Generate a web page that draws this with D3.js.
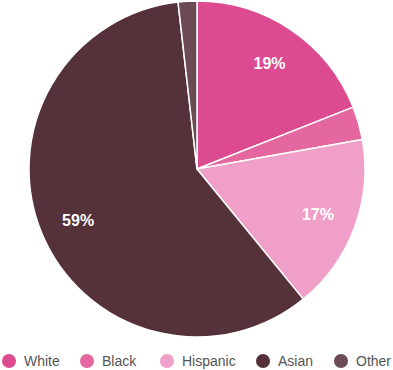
<!DOCTYPE html>
<html><head><meta charset="utf-8">
<script src="https://cdn.jsdelivr.net/npm/d3@7"></script>
<style>body{margin:0;background:#fff}svg{display:block}</style>
</head><body>
<svg id="c" width="393" height="370"></svg>
<script>
const categories = ["White","Black","Hispanic","Asian","Other"];
const values = [19.0, 3.2, 16.9, 59.1, 1.8];
const colors = ["#dc4a90","#e5679f","#f0a0c8","#55313a","#6d4b54"];

const svg = d3.select("#c");
const cx = 197, cy = 169, r = 168;
const pie = d3.pie().sort(null).value(d => d.v);
const data = categories.map((c,i)=>({c, v: values[i], col: colors[i]}));
const arcs = pie(data);
const arc = d3.arc().innerRadius(0).outerRadius(r);
const labelArc = d3.arc().innerRadius(129).outerRadius(129);
const g = svg.append("g").attr("transform",`translate(${cx},${cy})`);
g.selectAll("path").data(arcs).join("path")
  .attr("d", arc).attr("fill", d=>d.data.col)
  .attr("stroke","#fff").attr("stroke-width",1.5).attr("stroke-linejoin","round");
g.selectAll("text").data(arcs.filter(d=>d.data.v>=5)).join("text")
  .attr("transform", d=>`translate(${labelArc.centroid(d)})`)
  .attr("text-anchor","middle").attr("dy","0.4em")
  .attr("fill","#fff").attr("font-family","Liberation Sans, Arial, sans-serif")
  .attr("font-weight","bold").attr("font-size",16)
  .text(d=>Math.round(d.data.v)+"%");

const legX = [9, 87, 167, 263, 341];
const leg = svg.append("g");
data.forEach((d,i)=>{
  leg.append("circle").attr("cx",legX[i]).attr("cy",361).attr("r",7).attr("fill",d.col);
  leg.append("text").attr("x",legX[i]+15).attr("y",361).attr("dy","0.35em")
    .attr("font-family","Liberation Sans, Arial, sans-serif").attr("font-size",14)
    .attr("fill","#555").text(d.c);
});
</script>
</body></html>
